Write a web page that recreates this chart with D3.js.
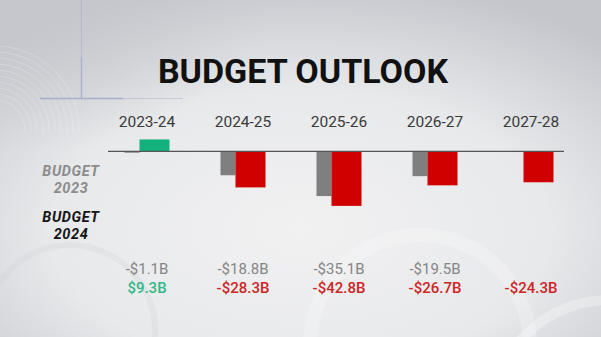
<!DOCTYPE html>
<html>
<head>
<meta charset="utf-8">
<script src="https://cdn.jsdelivr.net/npm/d3@7"></script>
<style>
  html, body { margin: 0; padding: 0; background: #e6e7e9; }
  svg { display: block; }
</style>
</head>
<body>
<svg id="chart" width="601" height="337"></svg>
<script>
// Budget balance by fiscal year, in billions of dollars
const categories = ["2023-24", "2024-25", "2025-26", "2026-27", "2027-28"];
const budget2023 = [-1.1, -18.8, -35.1, -19.5, null];
const budget2024 = [9.3, -28.3, -42.8, -26.7, -24.3];
const seriesLabels = [["BUDGET", "2023"], ["BUDGET", "2024"]];
const title = "BUDGET OUTLOOK";

const W = 601, H = 337;
const svg = d3.select("#chart");
const defs = svg.append("defs");

// Backdrop: soft grey studio gradient, lighter toward the middle
const bg = defs.append("radialGradient").attr("id", "bg")
  .attr("cx", 0.5).attr("cy", 0.68).attr("r", 0.75);
bg.append("stop").attr("offset", "0%").attr("stop-color", "#f1f1f2");
bg.append("stop").attr("offset", "55%").attr("stop-color", "#e8e9eb");
bg.append("stop").attr("offset", "100%").attr("stop-color", "#c4c6cc");
svg.append("rect").attr("width", W).attr("height", H).attr("fill", "url(#bg)");

const tl = defs.append("radialGradient").attr("id", "tl")
  .attr("cx", 0.0).attr("cy", 0.0).attr("r", 0.45);
tl.append("stop").attr("offset", "0%").attr("stop-color", "#c6c7cc").attr("stop-opacity", 0.85);
tl.append("stop").attr("offset", "100%").attr("stop-color", "#c6c7cc").attr("stop-opacity", 0);
svg.append("rect").attr("width", W).attr("height", H).attr("fill", "url(#tl)");

// Faint swirl texture in the upper left corner
const swirl = svg.append("g").attr("fill", "none").attr("stroke", "#ffffff")
  .attr("stroke-opacity", 0.16).attr("stroke-width", 0.7);
d3.range(10).forEach(i => {
  swirl.append("path")
    .attr("d", d3.arc()({innerRadius: 30 + i * 6, outerRadius: 30 + i * 6, startAngle: -0.4, endAngle: 1.6}))
    .attr("transform", "translate(-5,130)");
});
// Faint circles in the lower half
const rings = svg.append("g").attr("fill", "none").attr("stroke", "#ffffff");
rings.append("circle").attr("cx", 420).attr("cy", 345).attr("r", 110)
  .attr("stroke-opacity", 0.22).attr("stroke-width", 14);
rings.append("circle").attr("cx", 610).attr("cy", 420).attr("r", 120)
  .attr("stroke-opacity", 0.3).attr("stroke-width", 10);
rings.append("circle").attr("cx", 70).attr("cy", 330).attr("r", 85)
  .attr("stroke", "#cfd0d3").attr("stroke-opacity", 0.25).attr("stroke-width", 6);

// Thin blue-grey accent lines
const accent = svg.append("g").attr("stroke", "#a9aecb");
accent.append("line").attr("x1", 81.5).attr("x2", 81.5).attr("y1", 0).attr("y2", 98.5)
  .attr("stroke-opacity", 0.6).attr("stroke-width", 1);
accent.append("line").attr("x1", 81.5).attr("x2", 81.5).attr("y1", 57).attr("y2", 98.5)
  .attr("stroke-width", 1.3);
accent.append("line").attr("x1", 40).attr("x2", 123).attr("y1", 98.5).attr("y2", 98.5)
  .attr("stroke-width", 1.5);
accent.append("line").attr("x1", 123).attr("x2", 183).attr("y1", 98.5).attr("y2", 98.5)
  .attr("stroke-opacity", 0.5).attr("stroke-width", 1);

// Title
svg.append("text").attr("x", 303).attr("y", 83).attr("text-anchor", "middle")
  .attr("font-family", "Roboto, sans-serif").attr("font-weight", 700)
  .attr("font-size", 34).attr("fill", "#111").text(title);

// Scales
const x = d3.scalePoint().domain(categories).range([147, 531]);
const y = d3.scaleLinear().domain([-50, 10]).range([215.05, 138.55]);
const zeroY = y(0);

// Category labels along the top
svg.append("g").selectAll("text").data(categories).join("text")
  .attr("x", d => x(d)).attr("y", 127).attr("text-anchor", "middle")
  .attr("font-family", "Roboto, sans-serif").attr("font-size", 15.5)
  .attr("fill", "#3a3a3a").text(d => d);

// Bars: previous budget in grey (narrow), current budget red/green (wide)
const rows = categories.map((c, i) => ({c, prev: budget2023[i], curr: budget2024[i]}));
const bars = svg.append("g");
bars.selectAll("rect.prev").data(rows.filter(d => d.prev != null)).join("rect")
  .attr("class", "prev")
  .attr("x", d => x(d.c) - 22.5).attr("width", 15)
  .attr("y", d => Math.min(y(d.prev), zeroY))
  .attr("height", d => Math.abs(y(d.prev) - zeroY))
  .attr("fill", "#7f7f7f");
bars.selectAll("rect.curr").data(rows).join("rect")
  .attr("class", "curr")
  .attr("x", d => x(d.c) - 7.5).attr("width", 30)
  .attr("y", d => Math.min(y(d.curr), zeroY))
  .attr("height", d => Math.abs(y(d.curr) - zeroY))
  .attr("fill", d => d.curr >= 0 ? "#13b27c" : "#d10000");

// Zero baseline
svg.append("line").attr("x1", 108).attr("x2", 564).attr("y1", zeroY).attr("y2", zeroY)
  .attr("stroke", "#555").attr("stroke-width", 1.3);

// Series labels on the left
const legend = svg.append("g").attr("font-family", "Roboto, sans-serif")
  .attr("font-weight", 700).attr("font-style", "italic").attr("font-size", 14.5)
  .attr("text-anchor", "middle");
[[175.5, "#8c8c8c"], [221.5, "#151515"]].forEach(([y0, col], k) => {
  seriesLabels[k].forEach((t, j) => {
    legend.append("text").attr("x", 71).attr("y", y0 + j * 17)
      .attr("fill", col).attr("letter-spacing", 0.6).text(t);
  });
});

// Value labels
const fmt = v => (v < 0 ? "-$" : "$") + d3.format(".1f")(Math.abs(v)) + "B";
const vals = svg.append("g").attr("font-family", "Roboto, sans-serif")
  .attr("font-size", 15).attr("text-anchor", "middle");
vals.selectAll("text.prev").data(rows.filter(d => d.prev != null)).join("text")
  .attr("class", "prev")
  .attr("x", d => x(d.c)).attr("y", 274).attr("fill", "#858585")
  .text(d => fmt(d.prev));
vals.selectAll("text.curr").data(rows).join("text")
  .attr("class", "curr")
  .attr("x", d => x(d.c)).attr("y", 293).attr("font-weight", 500)
  .attr("fill", d => d.curr >= 0 ? "#34b886" : "#cf2525")
  .text(d => fmt(d.curr));
</script>
</body>
</html>
